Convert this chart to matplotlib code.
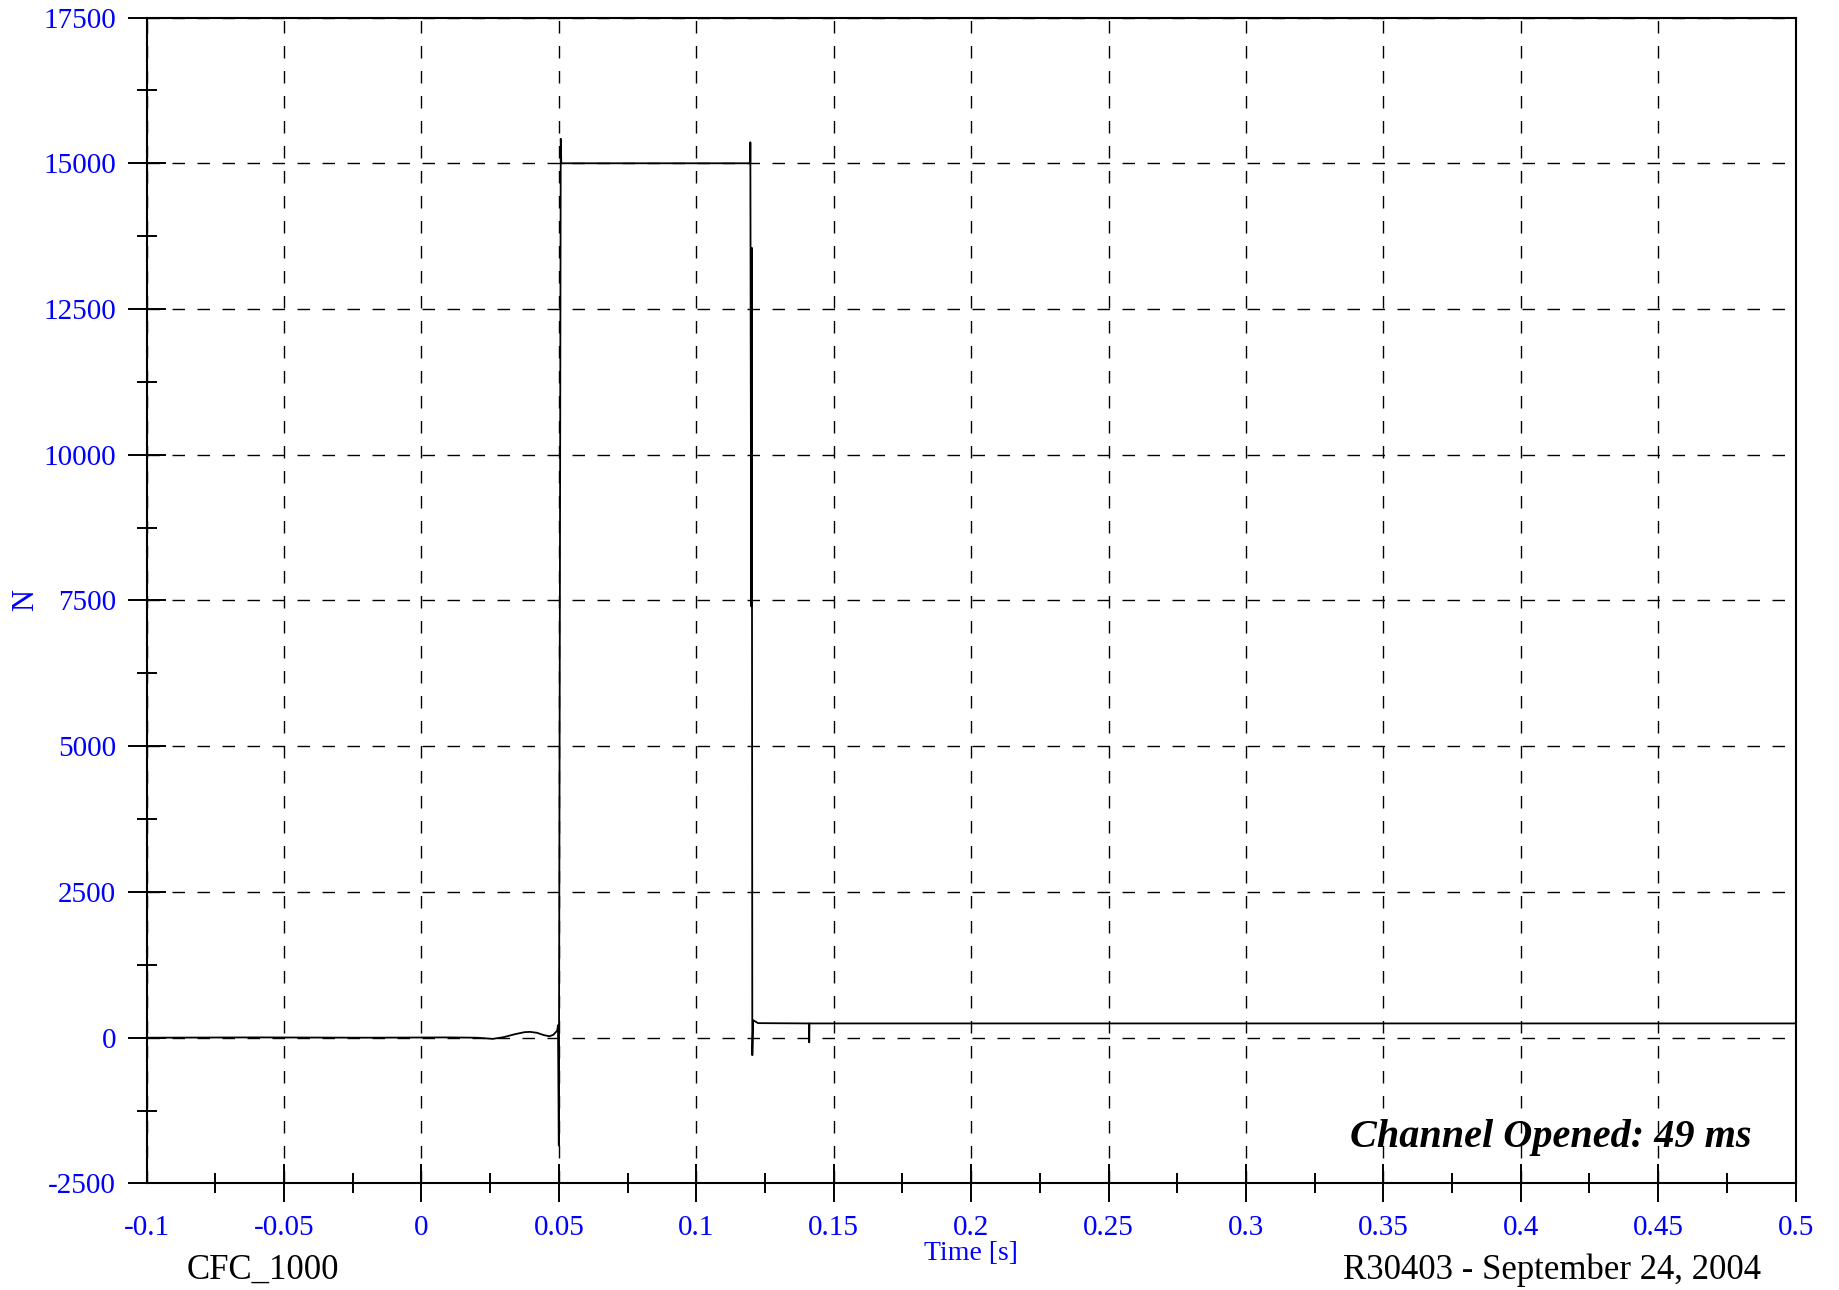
import matplotlib
matplotlib.use("Agg")
import matplotlib.pyplot as plt
from matplotlib.ticker import MultipleLocator

plt.rcParams['font.family'] = ['Liberation Serif', 'DejaVu Serif']
plt.rcParams['axes.unicode_minus'] = False

# Signal (time in s, force in N)
time = [-0.1, -0.06, -0.02, 0.01, 0.02, 0.026, 0.030, 0.034, 0.0375, 0.0395,
        0.042, 0.0445, 0.0466, 0.048, 0.0494,
        0.0497, 0.0500, 0.0507, 0.0509, 0.11966, 0.11968, 0.1200, 0.1202,
        0.1204, 0.1207, 0.1225, 0.1410, 0.1411, 0.1412, 0.5]
force = [0, 5, 0, 5, 0, -20, 10, 60, 95, 100,
         85, 45, 25, 50, 120,
         215, -1850, 15420, 15000, 15000, 15360, 7400, 13550,
         -300, 300, 250, 245, -80, 245, 245]

xticks = [-0.1, -0.05, 0, 0.05, 0.1, 0.15, 0.2, 0.25, 0.3, 0.35, 0.4, 0.45, 0.5]
xticklabels = ["-0.1", "-0.05", "0", "0.05", "0.1", "0.15", "0.2", "0.25",
               "0.3", "0.35", "0.4", "0.45", "0.5"]
yticks = [-2500, 0, 2500, 5000, 7500, 10000, 12500, 15000, 17500]

fig = plt.figure(figsize=(18.39, 12.9), dpi=100)
ax = fig.add_axes([0.0797, 0.0826, 0.9764 - 0.0797, 0.9864 - 0.0826])

ax.plot(time, force, color='black', lw=1.3)

ax.set_xlim(-0.1, 0.5)
ax.set_ylim(-2500, 17500)
ax.set_xticks(xticks)
ax.set_xticklabels(xticklabels)
ax.set_yticks(yticks)
ax.xaxis.set_minor_locator(MultipleLocator(0.025))
ax.yaxis.set_minor_locator(MultipleLocator(1250))

ax.tick_params(which='major', direction='inout', length=28, width=1.4,
               labelsize=21, labelcolor='#0000ff', pad=8)
ax.tick_params(which='minor', direction='inout', length=14, width=1.4)
ax.tick_params(axis='x', which='major', pad=9)
ax.xaxis.get_major_ticks()[0].tick1line.set_visible(False)

for s in ax.spines.values():
    s.set_linewidth(1.5)

ax.grid(True, which='major', color='black', lw=1.0, linestyle=(0, (9, 9)))

ax.set_ylabel("N", color='#0000ff', fontsize=22, labelpad=2)
ax.set_xlabel("Time [s]", color='#0000ff', fontsize=20, labelpad=0)

ax.text(0.484, -1720, "Channel Opened: 49 ms", fontsize=29, fontweight='bold',
        fontstyle='italic', ha='right', va='center', color='black')

fig.text(263 / 1839, 1 - 1270 / 1290, "CFC_1000", fontsize=25, ha='center',
         va='center', color='black')
fig.text(1552 / 1839, 1 - 1270 / 1290, "R30403 - September 24, 2004", fontsize=25,
         ha='center', va='center', color='black')

fig.savefig("out.png", dpi=100)
